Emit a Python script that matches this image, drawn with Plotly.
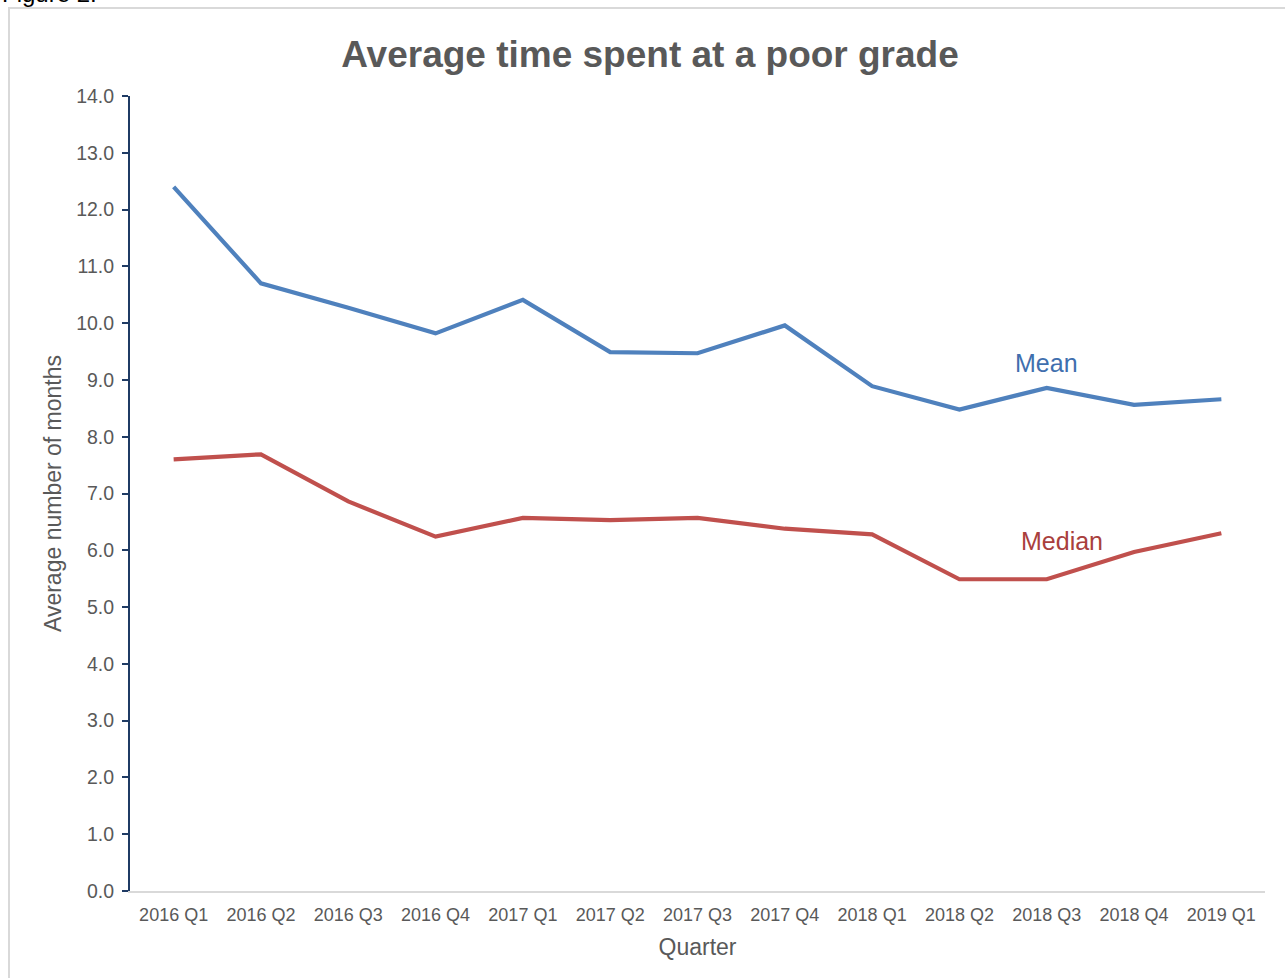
import plotly.graph_objects as go

quarters = ["2016 Q1", "2016 Q2", "2016 Q3", "2016 Q4", "2017 Q1", "2017 Q2", "2017 Q3",
            "2017 Q4", "2018 Q1", "2018 Q2", "2018 Q3", "2018 Q4", "2019 Q1"]
mean_vals = [12.4, 10.7, 10.27, 9.82, 10.41, 9.49, 9.47, 9.96, 8.89, 8.48, 8.86, 8.56, 8.66]
median_vals = [7.6, 7.69, 6.86, 6.24, 6.57, 6.53, 6.57, 6.38, 6.28, 5.49, 5.49, 5.97, 6.3]
y_ticks = [i * 1.0 for i in range(15)]

W, H = 1285, 978
L, R, T, B = 130, 20, 96, 87
pw, ph = W - L - R, H - T - B

def px_x(x):
    return (x - L) / pw

def px_y(y):
    return (H - B - y) / ph

FONT = "Liberation Sans, Arial, sans-serif"
BLUE = "#4f81bd"
RED = "#c0504d"

fig = go.Figure()
fig.add_trace(go.Scatter(x=quarters, y=mean_vals, mode="lines", name="Mean",
                         line=dict(color=BLUE, width=4.2), showlegend=False))
fig.add_trace(go.Scatter(x=quarters, y=median_vals, mode="lines", name="Median",
                         line=dict(color=RED, width=4.2), showlegend=False))

fig.update_layout(
    width=W, height=H,
    margin=dict(l=L, r=R, t=T, b=B),
    paper_bgcolor="white", plot_bgcolor="white",
    font=dict(family=FONT, color="#595959"),
    title=dict(text="<b>Average time spent at a poor grade</b>", x=650 / W, xanchor="center",
               y=1 - 54 / H, yanchor="middle", font=dict(size=37, color="#595959", family=FONT)),
    xaxis=dict(type="category", range=[-0.5, 12.5], showline=True, linecolor="#d9d9d9", linewidth=2,
               ticks="", showgrid=False, zeroline=False, tickfont=dict(size=18, color="#595959"),
               ticklabelstandoff=6,
               title=dict(text="Quarter", font=dict(size=23, color="#595959"), standoff=15)),
    yaxis=dict(range=[0, 14], tickvals=y_ticks, tickformat=".1f", showline=True, linecolor="#1f3b64",
               linewidth=2, ticks="outside", ticklen=6, tickcolor="#1f3b64", tickwidth=2,
               showgrid=False, zeroline=False, tickfont=dict(size=19.5, color="#595959"),
               ticklabelstandoff=4,
               title=dict(text="Average number of months", font=dict(size=23, color="#595959"), standoff=8)),
    annotations=[
        dict(text="Mean", xref="x", yref="y", x=10.0, y=9.3, showarrow=False,
             font=dict(size=25, color="#3f6fae", family=FONT)),
        dict(text="Median", xref="x", yref="y", x=10.17, y=6.16, showarrow=False,
             font=dict(size=25, color="#a9403d", family=FONT)),
        dict(text="Figure 2.", xref="paper", yref="paper", x=px_x(0), y=px_y(9),
             xanchor="left", yanchor="bottom", showarrow=False,
             font=dict(size=24, color="#000000", family=FONT)),
    ],
    shapes=[
        dict(type="rect", xref="paper", yref="paper", x0=px_x(9), x1=px_x(1300),
             y0=px_y(990), y1=px_y(8), line=dict(color="#d9d9d9", width=2), layer="below"),
    ],
)

fig.write_html("out.html")
